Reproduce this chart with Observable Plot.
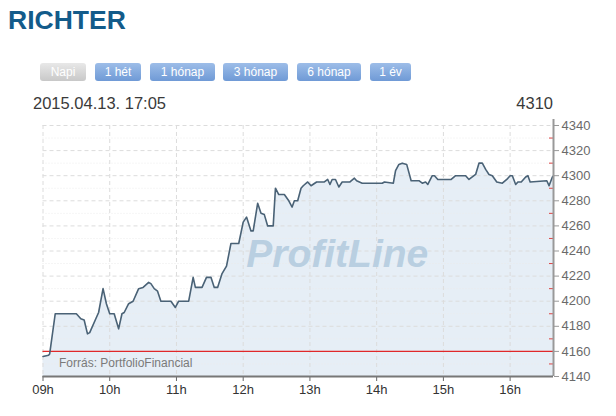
<!DOCTYPE html>
<html>
<head>
<meta charset="utf-8">
<script src="https://cdn.jsdelivr.net/npm/d3@7"></script>
<script src="https://cdn.jsdelivr.net/npm/@observablehq/plot@0.6"></script>
<style>
  html, body { margin: 0; padding: 0; background: #fff; }
  body { width: 616px; height: 416px; position: relative; overflow: hidden; font-family: "Liberation Sans", Arial, sans-serif; }
  #title { position: absolute; left: 8px; top: 5px; font-size: 26.5px; font-weight: bold; color: #135b8a; }
  .btn { position: absolute; top: 63px; height: 18px; line-height: 18px; text-align: center; font-size: 12px; color: #fff; border-radius: 3px;
         background: linear-gradient(#9dbde8, #6f9ad6); }
  .btn.off { background: linear-gradient(#e8e8e8, #c8c8c8); }
  #date { position: absolute; left: 33px; top: 94px; font-size: 16.5px; color: #3a3a3a; }
  #last { position: absolute; right: 63px; top: 94px; font-size: 16.5px; color: #3a3a3a; }
  #chart { position: absolute; left: 0; top: 112px; }
</style>
</head>
<body>
<div id="title">RICHTER</div>
<div id="buttons"></div>
<div id="date">2015.04.13. 17:05</div>
<div id="last">4310</div>
<div id="chart"></div>
<script>
// ---- data ----
const times = ["09:00","09:05","09:06","09:11","09:30","09:34","09:37","09:40","09:42","09:47","09:50","09:54","09:57","10:00","10:04","10:08","10:11","10:13","10:17","10:21","10:26","10:30","10:35","10:37","10:40","10:43","10:46","10:55","10:59","11:02","11:11","11:15","11:17","11:23","11:27","11:31","11:34","11:37","11:41","11:45","11:49","11:56","12:00","12:03","12:07","12:09","12:13","12:16","12:19","12:22","12:27","12:29","12:32","12:37","12:41","12:44","12:46","12:49","12:52","12:54","12:58","13:01","13:06","13:13","13:16","13:18","13:20","13:23","13:26","13:29","13:36","13:40","13:42","13:47","14:05","14:07","14:15","14:17","14:20","14:23","14:27","14:31","14:38","14:41","14:44","14:46","14:50","14:52","14:55","15:03","15:07","15:11","15:20","15:23","15:26","15:29","15:32","15:35","15:38","15:41","15:44","15:48","15:53","15:57","16:00","16:02","16:05","16:07","16:10","16:14","16:16","16:18","16:33","16:35","16:38","16:39"];
const prices = [4156,4157,4158,4190,4190,4186,4185,4174,4175,4185,4191,4210,4198,4190,4190,4178,4190,4191,4198,4200,4210,4211,4215,4214,4210,4208,4200,4200,4195,4200,4200,4219,4211,4211,4219,4219,4211,4211,4222,4228,4246,4246,4263,4267,4256,4256,4278,4270,4269,4260,4260,4290,4285,4285,4280,4275,4280,4280,4290,4292,4295,4292,4295,4295,4297,4293,4297,4297,4291,4295,4295,4298,4296,4294,4294,4295,4294,4304,4309,4310,4309,4296,4296,4294,4295,4293,4300,4300,4297,4297,4297,4300,4300,4297,4299,4301,4310,4310,4305,4301,4300,4295,4294,4297,4300,4300,4293,4295,4295,4299,4300,4295,4296,4292,4299,4300];
const previousClose = 4160;
const sessionStart = "09:00";
const sessionEnd = "16:39";
const hourLabels = ["09h","10h","11h","12h","13h","14h","15h","16h"];
const yTicks = [4140,4160,4180,4200,4220,4240,4260,4280,4300,4320,4340];
const yMinorTicks = [4150,4170,4190,4210,4230,4250,4270,4290,4310,4330];
const buttonLabels = ["Napi","1 hét","1 hónap","3 hónap","6 hónap","1 év"];
const sourceText = "Forrás: PortfolioFinancial";
const watermark = "ProfitLine";

// ---- buttons ----
const btnLefts = [40,95,150,223,297,370];
const btnWidths = [46,46,65,65,64,41];
const bwrap = document.getElementById("buttons");
buttonLabels.forEach((t,i) => {
  const b = document.createElement("div");
  b.className = "btn" + (i === 0 ? " off" : "");
  b.style.left = btnLefts[i] + "px";
  b.style.width = btnWidths[i] + "px";
  b.textContent = t;
  bwrap.appendChild(b);
});

// ---- chart ----
const toMin = s => { const [h, m] = s.split(":").map(Number); return h * 60 + m - 540; };
const data = times.map((t, i) => ({t: toMin(t), v: prices[i]}));
const hourTicks = hourLabels.map(l => parseInt(l) * 60 - 540);
const hourFmt = new Map(hourTicks.map((v, i) => [v, hourLabels[i]]));

const W = 616, H = 300, ML = 42.5, MR = 63, MT = 13, MB = 36;
const yMin = yTicks[0], yMax = yTicks[yTicks.length - 1];

const chart = Plot.plot({
  width: W, height: H,
  marginLeft: ML, marginRight: MR, marginTop: MT, marginBottom: MB,
  style: {fontFamily: "'Liberation Sans', Arial, sans-serif", fontSize: "13px", background: "transparent"},
  x: {domain: [toMin(sessionStart), toMin(sessionEnd)]},
  y: {domain: [yMin, yMax]},
  marks: [
    Plot.areaY(data, {x: "t", y1: yMin, y2: "v", fill: "#e6eef6"}),
    Plot.ruleY(yMinorTicks, {stroke: "#ebebeb", strokeDasharray: "1,2", strokeWidth: 1}),
    Plot.ruleY(yTicks, {stroke: "#dcdcdc", strokeDasharray: "4,3", strokeWidth: 1}),
    Plot.ruleX(hourTicks, {stroke: "#dcdcdc", strokeDasharray: "4,3", strokeWidth: 1}),
    Plot.text([watermark], {frameAnchor: "middle", dx: 39, dy: 4, fontSize: 39, fontWeight: "bold", fontStyle: "italic", fill: "#b9cfe1"}),
    Plot.ruleY([previousClose], {stroke: "#e0282a", strokeWidth: 1.3}),
    Plot.text([sourceText], {frameAnchor: "bottom-left", dx: 16, dy: -10, fontSize: 12, fill: "#7a7a7a"}),
    Plot.line(data, {x: "t", y: "v", stroke: "#4a6276", strokeWidth: 1.6}),
    Plot.tickY(yMinorTicks, {y: d => d, stroke: "#dd4444", insetLeft: W - ML - MR - 4}),
    Plot.axisY({anchor: "right", ticks: yTicks, tickSize: 5, tickPadding: 3, tickFormat: d => String(d), fill: "#6a6a6a", stroke: "#999", label: null, fontSize: 13}),
    Plot.axisX({ticks: hourTicks, tickSize: 5, tickPadding: 3, tickFormat: d => hourFmt.get(d), fill: "#333", stroke: "#666", label: null, fontSize: 13}),
    Plot.ruleX([toMin(sessionEnd)], {stroke: "#999", strokeWidth: 2, insetTop: -6}),
    Plot.ruleY([yMin], {stroke: "#777", strokeWidth: 2})
  ]
});
document.getElementById("chart").appendChild(chart);
</script>
</body>
</html>
